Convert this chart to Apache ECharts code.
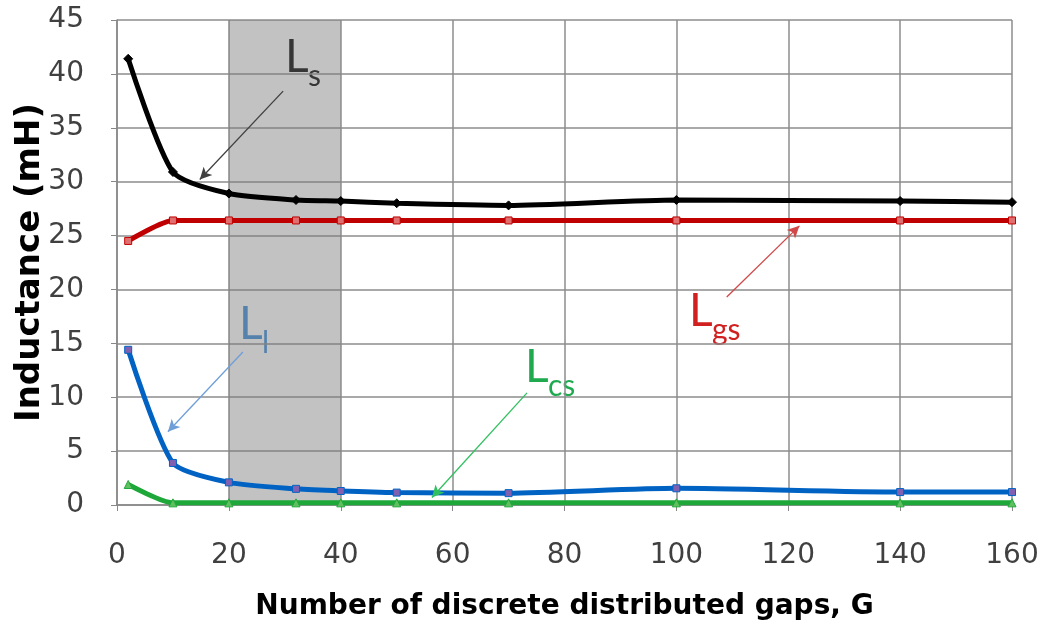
<!DOCTYPE html>
<html>
<head>
<meta charset="utf-8">
<script src="https://cdn.jsdelivr.net/npm/echarts@6/dist/echarts.min.js"></script>
<style>
  html, body { margin: 0; padding: 0; background: #fff; }
  #container { width: 1047px; height: 630px; }
</style>
</head>
<body>
<div id="container"></div>
<script>
// gap counts G and inductances (mH)
var gaps = [2, 10, 20, 32, 40, 50, 70, 100, 140, 160];
var ls  = [41.4, 30.9, 28.9, 28.3, 28.2, 28.0, 27.8, 28.3, 28.2, 28.1];
var lgs = [24.5, 26.4, 26.4, 26.4, 26.4, 26.4, 26.4, 26.4, 26.4, 26.4];
var ll  = [14.4, 3.9, 2.1, 1.5, 1.3, 1.15, 1.1, 1.55, 1.2, 1.2];
var lcs = [1.9, 0.2, 0.2, 0.2, 0.2, 0.2, 0.2, 0.2, 0.2, 0.2];
var shadedRange = [20, 40];

function pairs(ys) {
    return gaps.map(function (g, i) { return [g, ys[i]]; });
}

var myChart = echarts.init(document.getElementById('container'));

function arrow(from, to, color) {
    return {
        silent: true,
        symbol: ['none', 'arrow'],
        symbolSize: [9, 12],
        label: { show: false },
        lineStyle: { color: color, width: 1.3, type: 'solid' },
        data: [[{ coord: from }, { coord: to }]]
    };
}

function lineSeries(name, ys, color, symbol, markerColor, size) {
    return {
        name: name,
        type: 'line',
        z: 3,
        smooth: 0.22,
        data: pairs(ys),
        symbol: symbol,
        symbolSize: size,
        lineStyle: { color: color, width: 5 },
        itemStyle: { color: markerColor, borderColor: color, borderWidth: 1 }
    };
}

var sLs = lineSeries('Ls', ls, '#000000', 'diamond', '#000000', 9);
sLs.markLine = arrow([29.7, 38.4], [14.8, 30.2], '#404040');
var sLgs = lineSeries('Lgs', lgs, '#c00000', 'rect', '#e07070', 7);
sLgs.markLine = arrow([109, 19.3], [122, 25.9], '#d04848');
var sLl = lineSeries('Ll', ll, '#0063c4', 'rect', '#8060b0', 7);
sLl.markLine = arrow([22.5, 14.2], [9.1, 6.8], '#6f9fd8');
var sLcs = lineSeries('Lcs', lcs, '#1fa83a', 'triangle', '#60c060', 8);
sLcs.markLine = arrow([73.3, 10.4], [56.3, 0.7], '#30c060');

// label "L" with a subscript: x of the L, baseline of the L
var labelFont = 'Lato, "Open Sans", sans-serif';
function annot(x, base, sub, color) {
    return [{
        type: 'text',
        x: x - 3,
        y: base + 7,
        style: { text: 'L', fontSize: 46, fontFamily: labelFont, fill: color, verticalAlign: 'bottom' }
    }, {
        type: 'text',
        x: x + 20,
        y: base + 18,
        style: { text: sub, fontSize: 30, fontFamily: labelFont, fill: color, verticalAlign: 'bottom' }
    }];
}

var tickFont = { fontSize: 28, color: '#404040', fontFamily: 'DejaVu Sans' };

var option = {
    animation: false,
    backgroundColor: '#ffffff',
    grid: { left: 117, right: 35, top: 20, bottom: 125, outerBoundsMode: 'none' },
    xAxis: {
        type: 'value',
        min: 0, max: 160, interval: 20,
        name: 'Number of discrete distributed gaps, G',
        nameLocation: 'middle',
        nameGap: 88,
        nameMoveOverlap: false,
        nameTextStyle: { fontSize: 28, fontWeight: 'bold', color: '#000', fontFamily: 'DejaVu Sans' },
        axisLine: { show: true, lineStyle: { color: '#888', width: 1.5 } },
        axisTick: { show: true, length: 6, lineStyle: { color: '#888' } },
        axisLabel: Object.assign({ margin: 37 }, tickFont),
        splitLine: { show: true, lineStyle: { color: '#8c8c8c', width: 1.5 } }
    },
    yAxis: {
        type: 'value',
        min: 0, max: 45, interval: 5,
        name: 'Inductance (mH)',
        nameLocation: 'middle',
        nameGap: 70,
        nameMoveOverlap: false,
        nameTextStyle: { fontSize: 34, fontWeight: 'bold', color: '#000', fontFamily: 'DejaVu Sans' },
        axisLine: { show: true, lineStyle: { color: '#888', width: 1.5 } },
        axisTick: { show: true, length: 6, lineStyle: { color: '#888' } },
        axisLabel: Object.assign({ margin: 33 }, tickFont),
        splitLine: { show: true, lineStyle: { color: '#8c8c8c', width: 1.5 } }
    },
    series: [
        {
            type: 'line',
            z: 1,
            data: [],
            markArea: {
                silent: true,
                itemStyle: { color: 'rgba(120,120,120,0.45)' },
                data: [[{ xAxis: shadedRange[0] }, { xAxis: shadedRange[1] }]]
            }
        },
        sLs, sLgs, sLl, sLcs
    ],
    graphic: [].concat(
        annot(288, 73, 's', '#000000'),
        annot(242, 340, 'l', '#3a8ad8'),
        annot(692, 327, 'gs', '#d02020'),
        annot(528, 383, 'cs', '#1faa50')
    )
};

myChart.setOption(option, true);
window.onresize = function () {
    myChart.resize();
};
</script>
</body>
</html>
